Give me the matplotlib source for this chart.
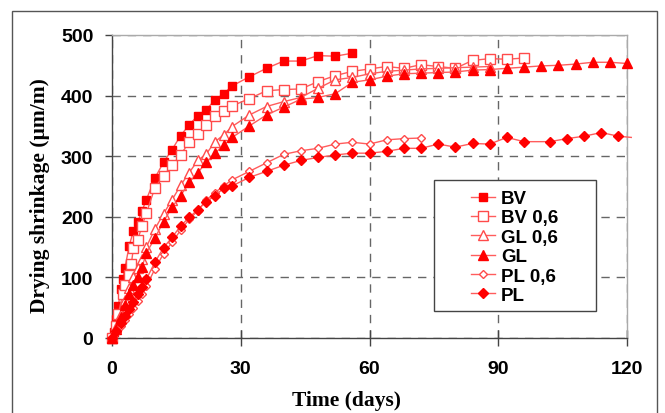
import matplotlib
matplotlib.use("Agg")
import matplotlib.pyplot as plt
from matplotlib.patches import Rectangle

# ---- data ----
bv_days = [0, 0.5, 1, 1.5, 2, 2.5, 3, 4, 5, 6, 7, 8, 10,
           12, 14, 16, 18, 20, 22, 24, 26, 28,
           32, 36, 40, 44, 48, 52, 56]
bv_vals = [0, 10, 31, 53, 81, 97, 115, 152, 177, 191, 210, 228, 264,
           290, 311, 334, 352, 367, 377, 393, 403, 416,
           431, 445, 457, 457, 466, 465, 470]

bv06_days = [0, 1, 1.5, 2.5, 3, 4, 4.5, 5, 6, 7, 8, 10,
             12, 14, 16, 18, 20, 22, 24, 26, 28,
             32, 36, 40, 44, 48, 52, 56, 60, 64, 68, 72, 76, 80, 84, 88, 92, 96]
bv06_vals = [0, 20, 40, 73, 87, 104, 122, 149, 162, 185, 206, 248,
             268, 285, 302, 324, 337, 352, 366, 375, 383,
             395, 408, 410, 411, 423, 433, 440, 444, 448, 445, 451, 448, 445, 458, 461, 460, 462]

gl06_days = [0, 1, 2, 3, 4, 5, 6, 7, 8, 10,
             12, 14, 16, 18, 20, 22, 24, 26, 28,
             32, 36, 40, 44, 48, 52, 56, 60, 64, 68, 72, 76, 80, 84, 88]
gl06_vals = [0, 18, 40, 62, 82, 100, 115, 130, 150, 180,
             205, 228, 252, 273, 293, 304, 324, 335, 349,
             368, 382, 390, 397, 412, 426, 430, 436, 440, 442, 444, 445, 446, 447, 448]

gl_days = [0, 1, 2, 3, 4, 5, 6, 7, 8, 10,
           12, 14, 16, 18, 20, 22, 24, 26, 28,
           32, 36, 40, 44, 48, 52, 56, 60, 64, 68, 72, 76, 80, 84, 88,
           92, 96, 100, 104, 108, 112, 116, 120]
gl_vals = [0, 15, 35, 55, 72, 88, 100, 117, 140, 165,
           192, 216, 235, 257, 273, 290, 305, 318, 331,
           350, 368, 381, 394, 397, 403, 422, 426, 432, 436, 437, 438, 439, 442, 443,
           445, 447, 449, 450, 452, 455, 455, 453]

pl06_days = [0, 1, 2, 3, 4, 5, 6, 7, 8, 10,
             12, 14, 16, 18, 20, 22, 24, 26, 28,
             32, 36, 40, 44, 48, 52, 56, 60, 64, 68, 72]
pl06_vals = [0, 10, 20, 30, 40, 50, 61, 73, 85, 114,
             139, 158, 178, 196, 210, 228, 240, 251, 261,
             275, 289, 303, 309, 313, 320, 323, 320, 327, 329, 330]

pl_days = [0, 1, 2, 3, 4, 5, 6, 7, 8, 10,
           12, 14, 16, 18, 20, 22, 24, 26, 28,
           32, 36, 40, 44, 48, 52, 56, 60, 64, 68, 72, 76, 80, 84, 88,
           92, 96, 102, 106, 110, 114, 118, 121]
pl_vals = [0, 12, 24, 36, 48, 60, 72, 84, 97, 125,
           149, 166, 185, 199, 212, 225, 235, 247, 251,
           265, 275, 285, 293, 298, 302, 305, 305, 308, 313, 313, 320, 315, 321, 320,
           331, 324, 324, 329, 333, 339, 333, 331]

x_ticks = [0, 30, 60, 90, 120]
y_ticks = [0, 100, 200, 300, 400, 500]

# ---- figure ----
W, H = 665, 414
fig = plt.figure(figsize=(W / 100, H / 100), dpi=100)
ax = fig.add_axes([112 / W, 1 - 339 / H, (627 - 112) / W, (339 - 36) / H])

# outer frame of the figure
fig.patches.append(Rectangle((12 / W, -0.1), (657 - 12) / W, 1.1 - 12 / H,
                             transform=fig.transFigure, fill=False,
                             edgecolor="#555555", linewidth=1.0))

line_c = "#ff5c5c"
red = "#ff0000"
open_edge = "#ff4a4a"

series = [
    ("BV", bv_days, bv_vals, "s", 6.0, True),
    ("BV 0,6", bv06_days, bv06_vals, "s", 6.5, False),
    ("GL 0,6", gl06_days, gl06_vals, "^", 6.5, False),
    ("GL", gl_days, gl_vals, "^", 6.5, True),
    ("PL 0,6", pl06_days, pl06_vals, "D", 4.5, False),
    ("PL", pl_days, pl_vals, "D", 4.8, True),
]

handles = []
for name, d, v, m, ms, filled in series:
    every = slice(0, len(d) - 1) if d[-1] > 120 else None
    h, = ax.plot(d, v, color=line_c, lw=1.0, marker=m, markersize=ms,
                 markerfacecolor=red if filled else "white",
                 markeredgecolor=red if filled else open_edge,
                 markeredgewidth=1.0, markevery=every, label=name,
                 clip_on=False, zorder=3)
    handles.append(h)

ax.set_xlim(0, 120)
ax.set_ylim(0, 500)
ax.set_xticks(x_ticks)
ax.set_yticks(y_ticks)

tick_font = dict(family="Liberation Sans", weight="bold", size=14)
ax.set_xticklabels([str(t) for t in x_ticks], fontdict=tick_font)
ax.set_yticklabels([str(t) for t in y_ticks], fontdict=tick_font)

ax.tick_params(axis="y", direction="out", length=5, width=1, color="#444444", pad=8.5)
ax.tick_params(axis="x", direction="inout", length=12, width=1, color="#444444", pad=10)

for s in ["left", "bottom"]:
    ax.spines[s].set_color("#444444")
    ax.spines[s].set_linewidth(1.0)
for s in ["top", "right"]:
    ax.spines[s].set_color("#aaaaaa")
    ax.spines[s].set_linewidth(1.0)

ax.grid(True, color="#666666", linestyle=(0, (6, 5)), linewidth=1.0)
ax.set_axisbelow(True)

label_font = dict(family="Liberation Serif", weight="bold", size=15.5)
ax.set_xlabel("Time (days)", fontdict=label_font)
ax.set_ylabel("Drying shrinkage (µm/m)", fontdict=label_font)
ax.xaxis.set_label_coords((346.5 - 112) / 515, (339 - 391) / 303)
ax.yaxis.set_label_coords((50 - 112) / 515, (339 - 196) / 303)

# legend frame and legend
lx0, lx1 = (434 - 112) / 515, (596 - 112) / 515
ly0, ly1 = (339 - 312) / 303, (339 - 181) / 303
ax.add_patch(Rectangle((lx0, ly0), lx1 - lx0, ly1 - ly0, transform=ax.transAxes,
                       facecolor="white", edgecolor="#444444", linewidth=1.0,
                       zorder=5))
leg = ax.legend(handles=handles, loc="center left",
                bbox_to_anchor=((471 - 112) / 515, (339 - 248) / 303),
                frameon=False, borderpad=0, borderaxespad=0,
                handlelength=1.3, handletextpad=0.3, labelspacing=0.12,
                prop=dict(family="Liberation Sans", weight="bold", size=13.5))
leg.set_zorder(6)

fig.savefig("out.png", dpi=100)
